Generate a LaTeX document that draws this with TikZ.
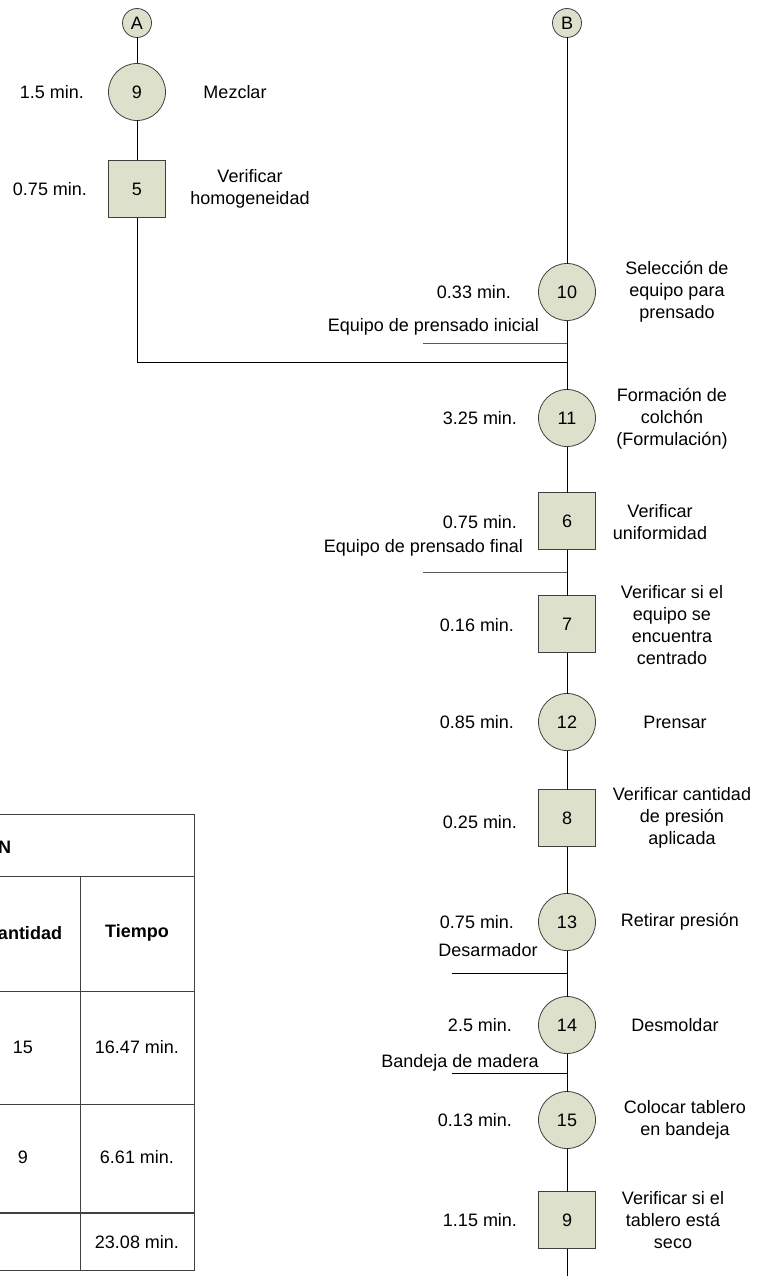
\documentclass[tikz,border=0pt]{standalone}
\usepackage{fontspec}
\setmainfont{Liberation Sans}
\definecolor{opfill}{RGB}{221,225,204}
\definecolor{edgegray}{RGB}{64,64,64}
\definecolor{supplygray}{RGB}{90,90,90}
\begin{document}
\begin{tikzpicture}[x=1pt,y=-1pt,
  every node/.style={font=\fontsize{18}{22}\selectfont, inner sep=0pt, outer sep=0pt},
  opcircle/.style={circle, draw=edgegray, fill=opfill, minimum size=57pt, line width=0.8pt},
  inspbox/.style={rectangle, draw=edgegray, fill=opfill, minimum size=57pt, line width=0.8pt},
  connector/.style={circle, draw=edgegray, fill=opfill, minimum size=29pt, line width=0.8pt, font=\fontsize{18}{20}\selectfont},
  lbl/.style={align=center},
  flow/.style={line width=1pt, black},
  supply/.style={line width=1pt, supplygray},
  tline/.style={line width=0.8pt, edgegray},
  thead/.style={font=\fontsize{18}{22}\selectfont\bfseries}
]
\clip (0,0) rectangle (763,1276);
\fill[white] (0,0) rectangle (763,1276);

% ---------- left branch ----------
\node[connector] (A) at (137,23) {A};
\node[opcircle] (o9) at (137,92) {9};
\node[inspbox] (i5) at (137,189) {5};
\node (t9) at (52,92) {1.5 min.};
\node (t5) at (50,189) {0.75 min.};
\node[lbl] (d9) at (235,92) {Mezclar};
\node[lbl] (d5) at (250,189) {Verificar\\homogeneidad};

% ---------- right branch ----------
\node[connector] (B) at (567,23) {B};
\node[opcircle] (o10) at (567,292) {10};
\node[opcircle] (o11) at (567,418) {11};
\node[inspbox] (i6) at (567,521) {6};
\node[inspbox] (i7) at (567,624) {7};
\node[opcircle] (o12) at (567,722) {12};
\node[inspbox] (i8) at (567,818) {8};
\node[opcircle] (o13) at (567,922) {13};
\node[opcircle] (o14) at (567,1025) {14};
\node[opcircle] (o15) at (567,1120) {15};
\node[inspbox] (i9) at (567,1220) {9};
\coordinate (bottom) at (567,1280);

\node (t10) at (474,292) {0.33 min.};
\node (t11) at (480,418) {3.25 min.};
\node (t6)  at (480,522) {0.75 min.};
\node (t7)  at (477,625) {0.16 min.};
\node (t12) at (477,722) {0.85 min.};
\node (t8)  at (480,822) {0.25 min.};
\node (t13) at (477,922) {0.75 min.};
\node (t14) at (480,1025) {2.5 min.};
\node (t15) at (475,1120) {0.13 min.};
\node (ti9) at (480,1220) {1.15 min.};

\node[lbl] (d10) at (677,292) {Selección de\\equipo para\\prensado};
\node[lbl] (d11) at (672,419) {Formación de\\colchón\\(Formulación)};
\node[lbl] (d6)  at (660,522) {Verificar\\uniformidad};
\node[lbl] (d7)  at (672,625) {Verificar si el\\equipo se\\encuentra\\centrado};
\node[lbl] (d12) at (675,722) {Prensar};
\node[lbl] (d8)  at (682,818) {Verificar cantidad\\de presión\\aplicada};
\node[lbl] (d13) at (680,922) {Retirar presión};
\node[lbl] (d14) at (675,1025) {Desmoldar};
\node[lbl] (d15) at (685,1120) {Colocar tablero\\en bandeja};
\node[lbl] (di9) at (673,1220) {Verificar si el\\tablero está\\seco};

% supply labels
\node[anchor=east] (s1) at (539,327) {Equipo de prensado inicial};
\node[anchor=east] (s2) at (523,548) {Equipo de prensado final};
\node (s3) at (488,950) {Desarmador};
\node (s4) at (460,1063) {Bandeja de madera};
\coordinate (e1) at (423,343);
\coordinate (e2) at (423,572);
\coordinate (e3) at (452,973);
\coordinate (e4) at (452,1073);
\coordinate (join) at (567,362);

% ---------- connectors ----------
\draw[flow] (A) -- (o9);
\draw[flow] (o9) -- (i5);
\draw[flow] (i5) |- (join);
\draw[flow] (B) -- (o10);
\draw[flow] (o10) -- (o11);
\draw[flow] (o11) -- (i6);
\draw[flow] (i6) -- (i7);
\draw[flow] (i7) -- (o12);
\draw[flow] (o12) -- (i8);
\draw[flow] (i8) -- (o13);
\draw[flow] (o13) -- (o14);
\draw[flow] (o14) -- (o15);
\draw[flow] (o15) -- (i9);
\draw[flow] (i9) -- (bottom);
\draw[supply] (e1) -- (e1 -| o10);
\draw[supply] (e2) -- (e2 -| i6);
\draw[flow] (e3) -- (e3 -| o13);
\draw[flow] (e4) -- (e4 -| o14);

% ---------- summary table ----------
\draw[tline] (-5,814) -- (194,814) -- (194,1270) -- (-5,1270);
\draw[tline] (-5,876) -- (194,876);
\draw[tline] (-5,991) -- (194,991);
\draw[tline] (-5,1104) -- (194,1104);
\draw[line width=1.6pt, edgegray] (-5,1213) -- (194,1213);
\draw[tline] (80,876) -- (80,1270);
\node[thead, anchor=east] (h1) at (11,847) {N};
\node[thead, anchor=east] (h2) at (62,933) {antidad};
\node[thead] (h3) at (137,933) {Tiempo};
\node (c1) at (23,1047) {15};
\node (c2) at (137,1047) {16.47 min.};
\node (c3) at (23,1157) {9};
\node (c4) at (137,1157) {6.61 min.};
\node (c5) at (137,1242) {23.08 min.};
\end{tikzpicture}
\end{document}
